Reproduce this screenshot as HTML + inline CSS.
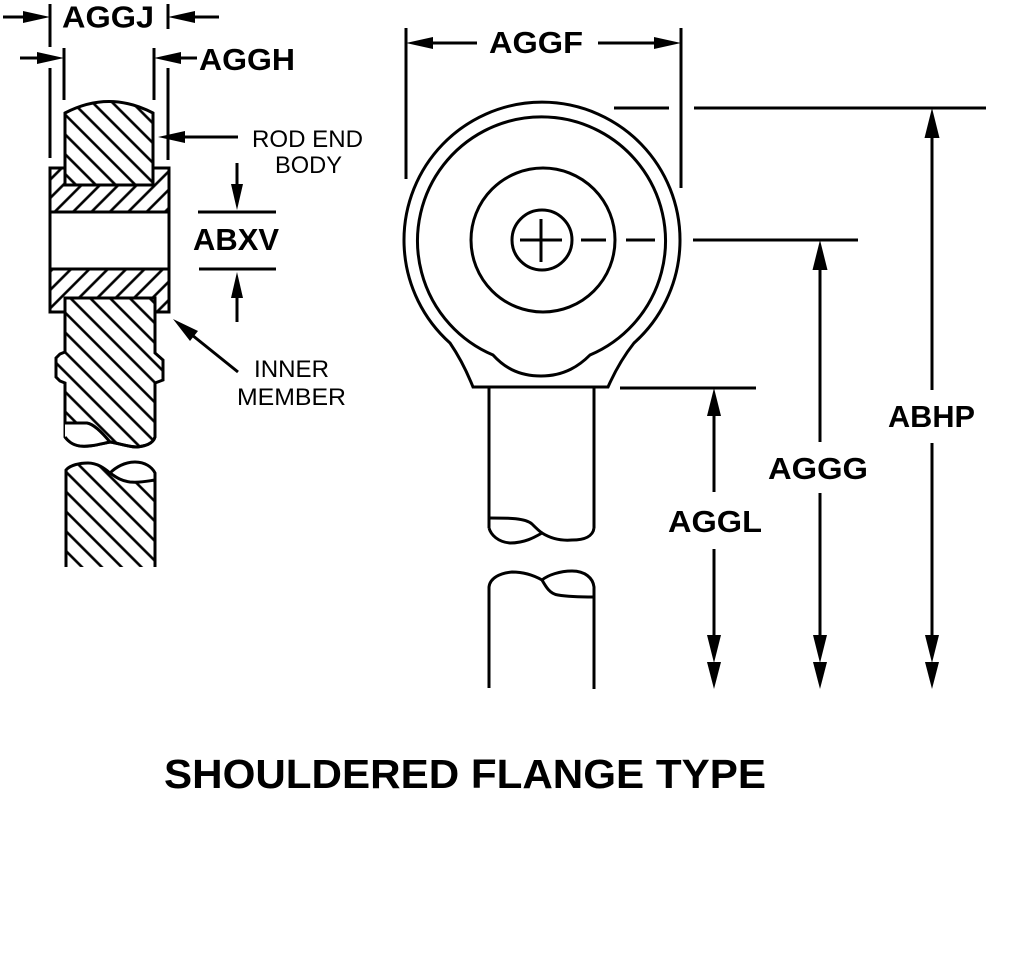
<!DOCTYPE html>
<html>
<head>
<meta charset="utf-8">
<style>
html,body{margin:0;padding:0;background:#fff;}
svg{display:block;}
text{font-family:"Liberation Sans",Arial,sans-serif;fill:#000;}
.b{font-weight:bold;font-size:31px;}
.n{font-size:24px;}
</style>
</head>
<body>
<svg width="1010" height="972" viewBox="0 0 1010 972" xmlns="http://www.w3.org/2000/svg">
<defs>
<pattern id="bs" width="14" height="14" patternUnits="userSpaceOnUse" patternTransform="rotate(-45)">
<rect width="14" height="14" fill="#fff"/>
<line x1="7" y1="-1" x2="7" y2="15" stroke="#000" stroke-width="2.6"/>
</pattern>
<pattern id="fs" width="13" height="13" patternUnits="userSpaceOnUse" patternTransform="rotate(45)">
<rect width="13" height="13" fill="#fff"/>
<line x1="6.5" y1="-1" x2="6.5" y2="14" stroke="#000" stroke-width="2.6"/>
</pattern>
</defs>
<rect width="1010" height="972" fill="#fff"/>

<!-- ============ LEFT VIEW ============ -->
<g stroke="#000" stroke-width="3" fill="none">
<!-- race hatched regions -->
<polygon points="50,168 65,168 65,185 153,185 153,168 169,168 169,212 50,212" fill="url(#fs)" stroke="none"/>
<polygon points="50,269 169,269 169,312 155,312 155,298 65,298 65,312 50,312" fill="url(#fs)" stroke="none"/>
<rect x="50" y="168" width="119" height="144"/>
<line x1="50" y1="212" x2="169" y2="212"/>
<line x1="50" y1="269" x2="169" y2="269"/>

<!-- rod end body -->
<path d="M65,185 L65,113 Q109,90 153,113 L153,185 Z" fill="url(#bs)"/>

<!-- inner member upper piece -->
<path d="M65,298 L155,298 L155,353 L163,360 L163,380 L155,383 L155,437 C153,444 145,446 137,447 C128,447 118,443 110,442 C100,444 90,447 80,446 C72,445 68,441 65,437 L65,383 L60,381 L56,377 L56,358 L60,354 L65,352 Z" fill="url(#bs)"/>
<path d="M65,423 L87,423 C93,424 100,430 110,442 C100,444 90,447 80,446 C72,445 68,441 65,437 Z" fill="#fff" stroke="none"/>
<path d="M65,423 L87,423 C93,424 100,430 110,442"/>
<path d="M155,437 C153,444 145,446 137,447 C128,447 118,443 110,442 C100,444 90,447 80,446 C72,445 68,441 65,437"/>

<!-- inner member lower piece -->
<path d="M66,567 L66,470 C70,465 80,463 88,463 C97,463 104,468 110,473 C116,467 125,462 135,462 C145,462 152,467 155,473 L155,567 Z" fill="url(#bs)" stroke="none"/>
<path d="M110,473 C116,467 125,462 135,462 C145,462 152,467 155,473 L155,480 C145,483 130,484 122,480 C117,478 113,476 110,473 Z" fill="#fff" stroke="none"/>
<path d="M66,567 L66,470 C70,465 80,463 88,463 C97,463 104,468 110,473 C116,467 125,462 135,462 C145,462 152,467 155,473 L155,567"/>
<path d="M110,473 C117,478 122,481 130,482 C140,483 148,481 155,480"/>

<!-- extension lines -->
<line x1="50" y1="4" x2="50" y2="47"/>
<line x1="50" y1="68" x2="50" y2="158"/>
<line x1="64" y1="48" x2="64" y2="100"/>
<line x1="154" y1="48" x2="154" y2="100"/>
<line x1="168" y1="4" x2="168" y2="29"/>
<line x1="168" y1="68" x2="168" y2="160"/>

<!-- AGGJ arrows -->
<line x1="3" y1="17" x2="26" y2="17"/>
<line x1="192" y1="17" x2="219" y2="17"/>
<!-- AGGH arrows -->
<line x1="20" y1="58" x2="40" y2="58"/>
<line x1="178" y1="58" x2="197" y2="58"/>
<!-- rod end leader -->
<line x1="182" y1="137" x2="238" y2="137"/>
<!-- ABXV -->
<line x1="237" y1="163" x2="237" y2="188"/>
<line x1="198" y1="212" x2="276" y2="212"/>
<line x1="199" y1="269" x2="276" y2="269"/>
<line x1="237" y1="295" x2="237" y2="322"/>
<!-- inner member leader -->
<line x1="192" y1="335" x2="238" y2="372"/>
</g>
<g fill="#000" stroke="none">
<polygon points="50,17 23,11 23,23"/>
<polygon points="168,17 195,11 195,23"/>
<polygon points="64,58 37,52 37,64"/>
<polygon points="154,58 181,52 181,64"/>
<polygon points="158,137 185,131 185,143"/>
<polygon points="237,210 231,184 243,184"/>
<polygon points="237,272 231,298 243,298"/>
<polygon points="173,319 190,341 198,331"/>
</g>

<text class="b" x="62" y="27.5" textLength="92" lengthAdjust="spacingAndGlyphs">AGGJ</text>
<text class="b" x="199" y="70" textLength="96" lengthAdjust="spacingAndGlyphs">AGGH</text>
<text class="b" x="193" y="250" textLength="86" lengthAdjust="spacingAndGlyphs">ABXV</text>
<text class="n" x="252" y="147" textLength="111" lengthAdjust="spacingAndGlyphs">ROD END</text>
<text class="n" x="275" y="173" textLength="67" lengthAdjust="spacingAndGlyphs">BODY</text>
<text class="n" x="254" y="377" textLength="75" lengthAdjust="spacingAndGlyphs">INNER</text>
<text class="n" x="237" y="405" textLength="109" lengthAdjust="spacingAndGlyphs">MEMBER</text>

<!-- ============ RIGHT VIEW ============ -->
<g stroke="#000" stroke-width="3" fill="none">
<!-- outer contour -->
<path d="M473,387 Q463,362 450,343 A138,138 0 1,1 634,343 Q619,362 608,387 Z"/>
<!-- second contour -->
<path d="M493,355 A124,124 0 1,1 590,355 C580,365 565,376 541,376 C517,376 503,366 493,355 Z"/>
<!-- third circle -->
<circle cx="543" cy="240" r="72"/>
<!-- ball -->
<circle cx="542" cy="240" r="30"/>
<line x1="520" y1="240" x2="562" y2="240"/>
<line x1="541" y1="219" x2="541" y2="262"/>
<!-- center line dashes -->
<line x1="581" y1="240" x2="606" y2="240"/>
<line x1="626" y1="240" x2="655" y2="240"/>
<line x1="693" y1="240" x2="858" y2="240"/>

<!-- shaft upper -->
<line x1="489" y1="387" x2="489" y2="528"/>
<line x1="594" y1="387" x2="594" y2="528"/>
<path d="M489,518 C510,518 525,518 532,524 C536,528 539,531 542,533"/>
<path d="M489,528 C491,535 498,542 510,543 C525,543 535,537 542,533 C550,538 560,541 572,540 C585,540 593,536 594,528"/>
<!-- shaft lower -->
<path d="M489,688 L489,587 C490,578 500,573 512,572 C525,572 535,576 542,580 C548,575 560,571 572,571 C585,571 593,578 594,587 L594,689"/>
<path d="M542,580 C546,587 550,594 558,595 C570,597 583,597 594,597"/>

<!-- AGGF -->
<line x1="406" y1="28" x2="406" y2="179"/>
<line x1="681" y1="28" x2="681" y2="188"/>
<line x1="430" y1="43" x2="477" y2="43"/>
<line x1="598" y1="43" x2="657" y2="43"/>

<!-- horizontal extension lines -->
<line x1="614" y1="108" x2="669" y2="108"/>
<line x1="694" y1="108" x2="986" y2="108"/>
<line x1="620" y1="388" x2="756" y2="388"/>

<!-- ABHP -->
<line x1="932" y1="135" x2="932" y2="390"/>
<line x1="932" y1="443" x2="932" y2="640"/>
<!-- AGGG -->
<line x1="820" y1="267" x2="820" y2="442"/>
<line x1="820" y1="493" x2="820" y2="640"/>
<!-- AGGL -->
<line x1="714" y1="413" x2="714" y2="492"/>
<line x1="714" y1="549" x2="714" y2="640"/>
</g>
<g fill="#000" stroke="none">
<polygon points="406,43 433,37 433,49"/>
<polygon points="681,43 654,37 654,49"/>
<polygon points="932,108 924.5,138 939.5,138"/>
<polygon points="932,663 925,635 939,635"/>
<polygon points="932,689 925,662 939,662"/>
<polygon points="820,240 812.5,270 827.5,270"/>
<polygon points="820,663 813,635 827,635"/>
<polygon points="820,689 813,662 827,662"/>
<polygon points="714,388 707,416 721,416"/>
<polygon points="714,663 707,635 721,635"/>
<polygon points="714,689 707,662 721,662"/>
</g>

<text class="b" x="489" y="53" textLength="94" lengthAdjust="spacingAndGlyphs">AGGF</text>
<text class="b" x="888" y="427" textLength="87" lengthAdjust="spacingAndGlyphs">ABHP</text>
<text class="b" x="768" y="479" textLength="100" lengthAdjust="spacingAndGlyphs">AGGG</text>
<text class="b" x="668" y="532" textLength="94" lengthAdjust="spacingAndGlyphs">AGGL</text>

<!-- title -->
<text x="164" y="788" font-size="41" font-weight="bold" textLength="602" lengthAdjust="spacingAndGlyphs">SHOULDERED FLANGE TYPE</text>
</svg>
</body>
</html>
